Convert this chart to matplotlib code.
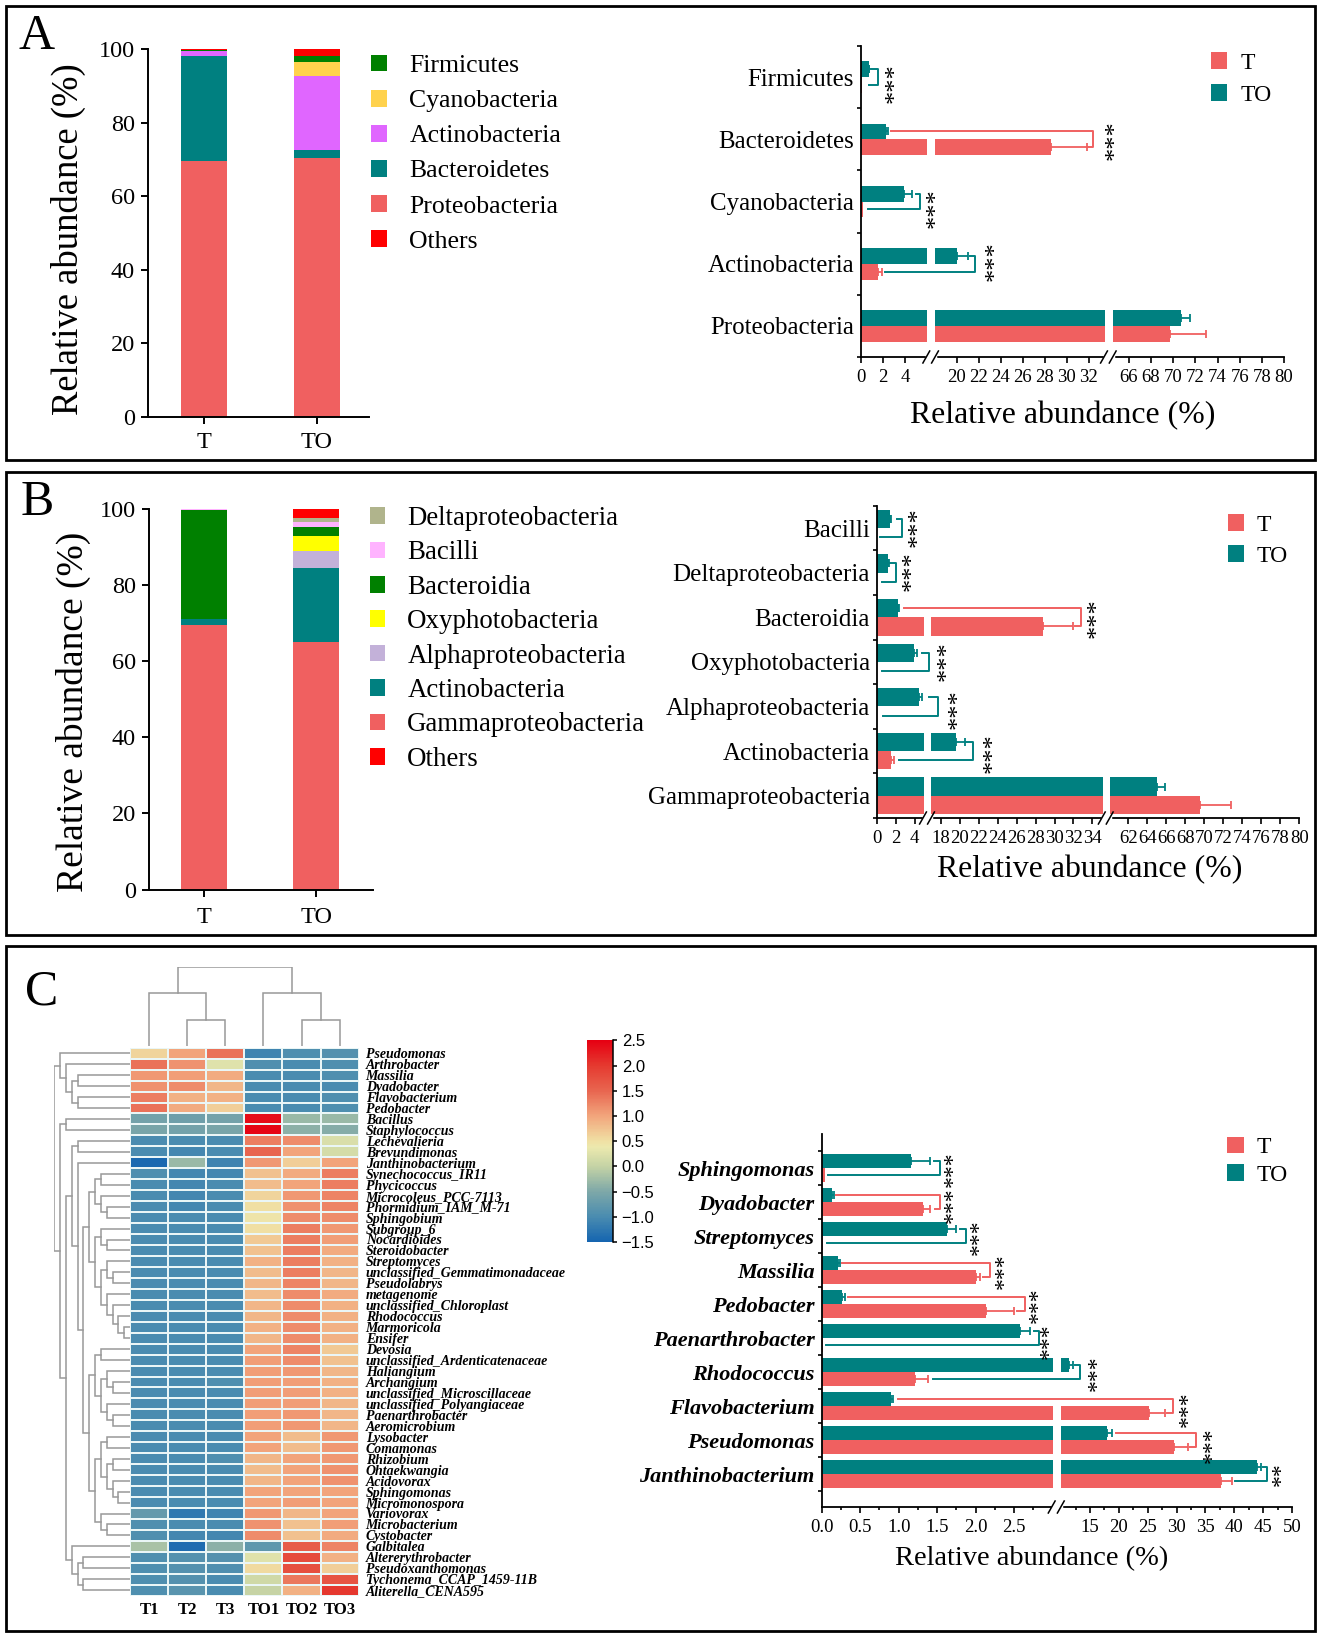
import numpy as np
import matplotlib
matplotlib.use('Agg')
import matplotlib.pyplot as plt
from matplotlib.colors import LinearSegmentedColormap
from matplotlib.lines import Line2D
from matplotlib.patches import Patch, Rectangle
from matplotlib.transforms import Affine2D, blended_transform_factory

plt.rcParams['font.family'] = ['Liberation Serif', 'DejaVu Serif']
plt.rcParams['mathtext.fontset'] = 'stix'

# ---------------------------- data: panel A ----------------------------
a_groups = ['T', 'TO']
a_legend = ['Firmicutes', 'Cyanobacteria', 'Actinobacteria', 'Bacteroidetes', 'Proteobacteria', 'Others']
a_stack_names = ['Proteobacteria', 'Bacteroidetes', 'Actinobacteria', 'Cyanobacteria', 'Firmicutes', 'Others']
a_stack_T = [69.6, 28.6, 1.35, 0.1, 0.05, 0.3]
a_stack_TO = [70.3, 2.3, 20.2, 3.8, 1.6, 1.8]

a_cats = ['Firmicutes', 'Bacteroidetes', 'Cyanobacteria', 'Actinobacteria', 'Proteobacteria']
a_T = [0.05, 28.6, 0.15, 1.57, 69.7]
a_T_err = [0, 3.2, 0, 0.33, 3.3]
a_TO = [0.7, 2.25, 3.9, 20.0, 70.7]
a_TO_err = [0.05, 0.15, 0.7, 1.0, 0.8]
a_ticks = [0, 2, 4, 20, 22, 24, 26, 28, 30, 32, 66, 68, 70, 72, 74, 76, 78, 80]
# bracket: colour key, inner end on TO bar, outer side, inner end on T bar
a_brackets = [('TO', 0.95, 1.5, 0.7), ('T', 2.7, 32.4, 31.9), ('TO', 5.0, 5.36, 0.6), ('TO', 21.2, 21.7, 2.15)]
a_stars = ['***', '***', '***', '***']

# ---------------------------- data: panel B ----------------------------
b_legend = ['Deltaproteobacteria', 'Bacilli', 'Bacteroidia', 'Oxyphotobacteria', 'Alphaproteobacteria',
            'Actinobacteria', 'Gammaproteobacteria', 'Others']
b_stack_names = ['Gammaproteobacteria', 'Actinobacteria', 'Alphaproteobacteria', 'Oxyphotobacteria',
                 'Bacteroidia', 'Bacilli', 'Deltaproteobacteria', 'Others']
b_stack_T = [69.5, 1.5, 0.1, 0.05, 28.6, 0.02, 0.03, 0.2]
b_stack_TO = [65.0, 19.5, 4.5, 3.9, 2.2, 1.3, 1.2, 2.4]

b_cats = ['Bacilli', 'Deltaproteobacteria', 'Bacteroidia', 'Oxyphotobacteria', 'Alphaproteobacteria',
          'Actinobacteria', 'Gammaproteobacteria']
b_T = [0.02, 0.02, 28.8, 0.05, 0.05, 1.55, 69.5]
b_T_err = [0, 0, 3.2, 0, 0, 0.25, 3.3]
b_TO = [1.45, 1.2, 2.2, 3.9, 4.5, 19.6, 65.0]
b_TO_err = [0.1, 0.05, 0.15, 0.35, 0.3, 0.9, 0.9]
b_ticks = [0, 2, 4] + list(range(18, 35, 2)) + list(range(62, 81, 2))
b_brackets = [('TO', 2.1, 2.65, 0.3), ('TO', 1.4, 2.05, 0.5), ('T', 2.9, 32.8, 32.2),
              ('TO', 4.8, 13.5, 0.5), ('TO', 13.5, 17.65, 0.7), ('TO', 20.7, 21.4, 2.4)]
b_stars = ['***'] * 6

# ---------------------------- data: panel C ----------------------------
c_cats = ['Sphingomonas', 'Dyadobacter', 'Streptomyces', 'Massilia', 'Pedobacter', 'Paenarthrobacter',
          'Rhodococcus', 'Flavobacterium', 'Pseudomonas', 'Janthinobacterium']
c_T = [0.045, 1.32, 0.02, 2.0, 2.13, 0.015, 1.21, 25.2, 29.6, 37.65]
c_T_err = [0, 0.08, 0, 0.05, 0.37, 0, 0.17, 2.8, 2.3, 1.95]
c_TO = [1.16, 0.136, 1.63, 0.215, 0.27, 2.58, 11.39, 0.9, 18.0, 43.9]
c_TO_err = [0.25, 0.02, 0.12, 0.02, 0.035, 0.12, 0.6, 0.02, 0.8, 0.7]
c_ticks = [0, 0.5, 1.0, 1.5, 2.0, 2.5, 15, 20, 25, 30, 35, 40, 45, 50]
c_minor = [0.25, 0.75, 1.25, 1.75, 2.25, 2.75, 12.5, 17.5, 22.5, 27.5, 32.5, 37.5, 42.5, 47.5]
c_brackets = [('TO', 1.46, 1.54, 0.085), ('T', 0.18, 1.54, 1.47), ('TO', 1.8, 1.87, 0.07),
              ('T', 0.27, 2.19, 2.09), ('T', 0.34, 2.64, 2.54), ('TO', 2.76, 2.82, 0.056),
              ('TO', 12.44, 13.34, 1.45), ('T', 0.99, 29.45, 28.4), ('T', 19.5, 33.4, 32.4),
              ('TO', 45.0, 45.7, 40.2)]
c_stars = ['***'] * 9 + ['**']

heat_cols = ['T1', 'T2', 'T3', 'TO1', 'TO2', 'TO3']
heat_rows = ['Pseudomonas', 'Arthrobacter', 'Massilia', 'Dyadobacter', 'Flavobacterium', 'Pedobacter',
             'Bacillus', 'Staphylococcus', 'Lechevalieria', 'Brevundimonas', 'Janthinobacterium',
             'Synechococcus_IR11', 'Phycicoccus', 'Microcoleus_PCC-7113', 'Phormidium_IAM_M-71', 'Sphingobium',
             'Subgroup_6', 'Nocardioides', 'Steroidobacter', 'Streptomyces', 'unclassified_Gemmatimonadaceae',
             'Pseudolabrys', 'metagenome', 'unclassified_Chloroplast', 'Rhodococcus', 'Marmoricola', 'Ensifer',
             'Devosia', 'unclassified_Ardenticatenaceae', 'Haliangium', 'Archangium',
             'unclassified_Microscillaceae', 'unclassified_Polyangiaceae', 'Paenarthrobacter', 'Aeromicrobium',
             'Lysobacter', 'Comamonas', 'Rhizobium', 'Ohtaekwangia', 'Acidovorax', 'Sphingomonas',
             'Micromonospora', 'Variovorax', 'Microbacterium', 'Cystobacter', 'Galbitalea', 'Altererythrobacter',
             'Pseudoxanthomonas', 'Tychonema_CCAP_1459-11B', 'Aliterella_CENA595']
heat_vals = [
    [.6, 1.0, 1.4, -1.1, -.95, -.9], [1.4, 1.15, .25, -.95, -1, -.95], [1.1, 1.05, .95, -1, -1, -.95],
    [1.15, 1.2, .85, -1, -1, -1], [1.3, .9, .9, -1, -1, -.95], [1.4, .95, .65, -1, -1, -.95],
    [-.6, -.65, -.6, 2.4, -.3, -.3], [-.55, -.6, -.55, 2.45, -.4, -.45], [-1, -1, -1, 1.3, 1.2, .2],
    [-1, -1.05, -1, 1.5, 1.0, .15], [-1.45, -.3, -1.1, 1.1, .65, 1.0], [-.95, -1.05, -1.05, .75, .95, 1.3],
    [-1, -1.05, -1, .8, 1.0, 1.3], [-1, -1.05, -1, .6, 1.1, 1.25], [-1, -1.05, -1, .5, 1.15, 1.25],
    [-1, -1, -1, .45, 1.2, 1.2], [-1, -1, -1, .5, 1.3, 1.1], [-1, -1, -1, .7, 1.3, 1.05],
    [-1, -1, -1, .75, 1.3, .95], [-1, -1, -1, .9, 1.3, .9], [-1, -1, -1, .8, 1.3, .85],
    [-1, -1, -1, .85, 1.25, .85], [-1, -1, -1, .8, 1.2, .95], [-1, -1, -1, .85, 1.2, .9],
    [-1, -1, -1, .85, 1.2, .9], [-1, -1, -1, .9, 1.2, .9], [-1, -1, -1, .85, 1.2, .9],
    [-1, -1, -1, 1.0, 1.25, .7], [-1, -1, -1, 1.05, 1.2, .75], [-1, -1, -1, 1.05, 1.1, .85],
    [-1, -1, -.95, 1.05, 1.05, .9], [-1, -1, -1, 1.05, 1.05, .9], [-1, -1, -1, 1.05, 1.05, .85],
    [-1, -1, -1, 1.05, 1.1, .85], [-1, -1, -1, 1.05, 1.1, .85], [-1, -1, -1, 1.0, .8, 1.1],
    [-1, -1, -1, 1.0, .8, 1.1], [-1, -1, -.95, .85, 1.0, 1.1], [-1, -1, -1, .8, 1.0, 1.15],
    [-1, -1, -1, .85, 1.0, 1.15], [-1, -1, -1, 1.0, 1.0, 1.0], [-1, -1, -1, 1.0, 1.05, 1.0],
    [-.75, -1.25, -1.1, 1.1, .85, 1.0], [-.95, -1, -1, 1.15, .75, 1.05], [-.95, -1.05, -1.05, 1.2, .75, .95],
    [-.2, -1.4, -.4, -.8, 1.6, 1.25], [-.95, -.9, -.9, .25, 1.8, .9], [-.95, -.9, -.95, .55, 1.75, .65],
    [-.95, -.9, -1, .1, 1.35, 1.7], [-.95, -.85, -1, -.0, .9, 2.0]]
# dendrograms: (merge level, child, child); a plain int is a leaf
col_tree = (0, (1, 0, (2, 1, 2)), (1, 3, (2, 4, 5)))
row_tree = (0,
            (1, 0, (2, 1, (3, (4, 2, 3), (4, 4, 5)))),
            (1, (2, 6, 7),
             (2,
              (3, (4, 8, 9),
               (4, 10,
                (5,
                 (6,
                  (7, (8, 11, 12), (8, 13, (9, 14, 15))),
                  (7, (8, 16, (9, 17, 18)),
                   (8, (9, 19, (10, 20, 21)), (9, 22, (10, 23, (11, 24, (12, 25, 26))))))),
                 (6,
                  (7, (8, 27, 28), (8, (9, 29, (10, 30, 31)), (9, 32, (10, 33, 34)))),
                  (7,
                   (8, (9, 35, 36), (9, (10, 37, 38), (10, 39, (11, 40, 41)))),
                   (8, 42, (9, 43, 44))))))),
              (3, 45, (4, (5, 46, 47), (5, 48, 49))))))

# ---------------------------- styling / layout ----------------------------
W, H = 1320, 1637
C_T, C_TO = '#F06060', '#008080'
SERIES_COL = {'Proteobacteria': '#F06060', 'Gammaproteobacteria': '#F06060', 'Bacteroidetes': '#008080',
              'Actinobacteria': '#E066FF', 'Cyanobacteria': '#FFD24D', 'Firmicutes': '#008000', 'Others': '#FF0000'}
SERIES_COL_B = {'Deltaproteobacteria': '#B0B48C', 'Bacilli': '#FFB3FF', 'Bacteroidia': '#008000',
                'Oxyphotobacteria': '#FFFF00', 'Alphaproteobacteria': '#C3B1D9', 'Actinobacteria': '#008080',
                'Gammaproteobacteria': '#F06060', 'Others': '#FF0000'}

fig = plt.figure(figsize=(W / 100, H / 100), dpi=100, facecolor='white')
PX = Affine2D().scale(1, -1).translate(0, H)


def axes_px(l, t, r, b):
    return fig.add_axes([l / W, 1 - b / H, (r - l) / W, (b - t) / H])


def px_legend(names, cols, x, y, fs, spacing, pad, sq):
    fpx = fs * 100 / 72
    handles = [Patch(facecolor=c, edgecolor='none', label=n) for n, c in zip(names, cols)]
    fig.legend(handles=handles, loc='upper left', bbox_to_anchor=(x / W, 1 - y / H), frameon=False, fontsize=fs,
               borderpad=0, borderaxespad=0, handlelength=sq / fpx, handleheight=sq / fpx,
               handletextpad=pad / fpx, labelspacing=spacing / fpx)


def stacked(box, groups, names, t_vals, to_vals, cols, ylab_x, ylab_y, ylab_fs, centers, xpad):
    ax = axes_px(*box)
    l, t, r, b = box
    pitch = centers[1] - centers[0]
    ax.set_xlim((l - centers[0]) / pitch, (r - centers[0]) / pitch)
    ax.set_ylim(0, 100)
    bott = np.zeros(2)
    for n, tv, tov in zip(names, t_vals, to_vals):
        vals = np.array([tv, tov])
        ax.bar([0, 1], vals, 0.41, bottom=bott, color=cols[n], linewidth=0)
        bott = bott + vals
    ax.set_xticks([0, 1], groups)
    ax.set_yticks(range(0, 101, 20))
    ax.tick_params(axis='both', labelsize=17.5, width=1.4, length=5)
    ax.tick_params(axis='y', pad=4.3)
    ax.tick_params(axis='x', pad=xpad)
    for s in ('top', 'right'):
        ax.spines[s].set_visible(False)
    for s in ('left', 'bottom'):
        ax.spines[s].set_linewidth(1.4)
    ax.set_ylabel('Relative abundance (%)', fontsize=ylab_fs, va='center', ha='center')
    ax.yaxis.set_label_coords(ylab_x, ylab_y, transform=PX)
    return ax


def broken(box, cats, t, t_e, to, to_e, vals, pxs, gaps, ticks, brackets, stars, star_px, star_dy,
           bar_h, cat_kw, xlab_xy, xlab_fs, ylim, xpad, minor=None):
    l, top, r, b = box
    ax = axes_px(*box)
    ax.set_xscale('function', functions=(lambda v: np.interp(v, vals, pxs), lambda p: np.interp(p, pxs, vals)))
    ax.set_xlim(vals[0], vals[-1])
    ax.set_ylim(*ylim)
    y = np.arange(len(cats))
    yto, yt = y - bar_h / 2, y + bar_h / 2
    ax.barh(yto, to, bar_h, color=C_TO, linewidth=0, zorder=2)
    ax.barh(yt, t, bar_h, color=C_T, linewidth=0, zorder=2)
    for yy, v, e, c in [(yto, to, to_e, C_TO), (yt, t, t_e, C_T)]:
        v, e = np.array(v), np.array(e)
        m = e > 0
        ax.errorbar(v[m], yy[m], xerr=[np.zeros(m.sum()), e[m]], fmt='none', ecolor=c, elinewidth=1.3,
                    capsize=3, capthick=1.3, zorder=2)
    for g0, g1 in gaps:
        ax.axvspan(np.interp(g0, pxs, vals), np.interp(g1, pxs, vals), color='white', lw=0, zorder=3)
        ax.add_artist(Line2D([g0, g1], [b, b], transform=PX, color='white', lw=2.5, clip_on=False, zorder=6))
        for cx in (g0 - 1, g1):
            ax.add_artist(Line2D([cx - 3.4, cx + 3.4], [b + 6, b - 6], transform=PX, color='black', lw=1.1,
                                 clip_on=False, zorder=7))
    col = {'T': C_T, 'TO': C_TO}
    for i, (k, a, o, c) in enumerate(brackets):
        ax.plot([a, o, o, c], [yto[i], yto[i], yt[i], yt[i]], color=col[k], lw=1.4, clip_on=False, zorder=5)
    tr = blended_transform_factory(PX, ax.transData)
    for i, (s, sx, dy) in enumerate(zip(stars, star_px, star_dy)):
        ax.text(sx + star_shift, i + dy, s, rotation=90, transform=tr, ha='center', va='center',
                fontsize=cat_kw['star'], zorder=6, clip_on=False)
    ax.set_xticks(ticks, [('%g' % v if not minor else '%.1f' % v if v < 3 else '%d' % v) for v in ticks])
    if minor:
        ax.set_xticks(minor, minor=True)
        ax.tick_params(axis='x', which='minor', length=2.5, width=1.2)
    ax.tick_params(axis='x', which='major', labelsize=13.5, length=4, width=1.2, pad=xpad)
    ax.set_yticks(np.arange(len(cats) + 1) - 0.5)
    ax.set_yticks(y, cats, minor=True)
    ax.tick_params(axis='y', which='major', length=3, width=1.2, labelleft=False)
    ax.tick_params(axis='y', which='minor', length=0, pad=cat_kw['pad'], labelsize=cat_kw['fs'])
    for lab in ax.get_yticklabels(minor=True):
        lab.set_fontweight(cat_kw.get('weight', 'normal'))
        lab.set_fontstyle(cat_kw.get('style', 'normal'))
    for s in ('top', 'right'):
        ax.spines[s].set_visible(False)
    for s in ('left', 'bottom'):
        ax.spines[s].set_linewidth(1.3)
    ax.set_xlabel('Relative abundance (%)', fontsize=xlab_fs, va='center', ha='center')
    ax.xaxis.set_label_coords(xlab_xy[0], xlab_xy[1], transform=PX)
    return ax


star_shift = 7
# panel frames
for (x0, y0, x1, y1) in [(6, 6, 1315, 459.5), (6, 472, 1315, 934.7), (6, 946, 1315, 1630.7)]:
    fig.add_artist(Rectangle((x0, y0), x1 - x0, y1 - y0, transform=PX, fill=False, edgecolor='black', lw=2))
for s, x, y in [('A', 37, 37), ('B', 37, 503), ('C', 42, 992)]:
    fig.text(x / W, 1 - y / H, s, fontsize=36, ha='center', va='center')

# ---- Panel A
stacked((148, 49.3, 369, 416.7), a_groups, a_stack_names, a_stack_T, a_stack_TO, SERIES_COL, 68, 239, 26.4, (204, 316.8), 6)
px_legend(a_legend, [SERIES_COL[n] for n in a_legend], 370.7, 54.8, 18.5, 12.7, 22.7, 16)
broken((861, 45.7, 1284, 357), a_cats, a_T, a_T_err, a_TO, a_TO_err,
       [0, 6, 18.03, 33.48, 64.54, 80], [861, 927.3, 935, 1105, 1112.7, 1284], [(927.3, 935), (1105, 1112.7)],
       a_ticks, a_brackets, a_stars, [888.4, 1108.4, 929.4, 989], [0.1, 0.015, 0.1, -0.04], 0.255,
       dict(fs=17.9, pad=5, star=19), (1063, 416), 22.9, (4.49, -0.507), 5)
px_legend(['T', 'TO'], [C_T, C_TO], 1210.6, 52.5, 17, 10, 13, 16.5)

# ---- Panel B
stacked((149, 508.6, 373, 889.7), a_groups, b_stack_names, b_stack_T, b_stack_TO, SERIES_COL_B, 73, 712, 27, (204.2, 316.4), 7.6)
px_legend(b_legend, [SERIES_COL_B[n] for n in b_legend], 369.7, 506, 19.4, 9.4, 22, 15.6)
broken((876.8, 505.7, 1299.3, 818), b_cats, b_T, b_T_err, b_TO, b_TO_err,
       [0, 5, 16.95, 35.1, 60.04, 80], [876.8, 924, 931, 1102.8, 1109.7, 1299.3], [(924, 931), (1102.8, 1109.7)],
       b_ticks, b_brackets, b_stars, [911.9, 906.2, 1091, 940.9, 951.3, 986.3], [-0.03, -0.03, 0.015, -0.02, 0.05, 0.04], 0.41,
       dict(fs=18, pad=5, star=19), (1089.8, 870), 22.9, (6.5, -0.5), 4.4)
px_legend(['T', 'TO'], [C_T, C_TO], 1227.5, 514.5, 17, 9, 13, 16.5)

# ---- Panel C: bars
broken((821.7, 1134, 1292, 1507), c_cats, c_T, c_T_err, c_TO, c_TO_err,
       [0, 3, 9.94, 50], [821.7, 1052.7, 1060.8, 1292], [(1052.7, 1060.8)],
       c_ticks, c_brackets, c_stars, [946, 946, 972.5, 997.6, 1031.8, 1042.6, 1090.6, 1181, 1205.4, 1274.2],
       [0.03, 0.09, 0.04, 0.03, 0.03, 0.1, 0.04, 0.09, 0.15, 0], 0.41,
       dict(fs=16, pad=5, star=17, weight='bold', style='italic'), (1031.8, 1559), 20.5, (9.97, -1.0), 4.4,
       minor=c_minor)
px_legend(['T', 'TO'], [C_T, C_TO], 1227, 1136.5, 17, 6, 13, 17)

# ---- Panel C: heatmap
cmap = LinearSegmentedColormap.from_list('heat', [
    (0.0, '#1565B0'), (0.125, '#4A8CB0'), (0.25, '#7EA8A8'), (0.375, '#C5D3A5'), (0.47, '#ECE9AE'),
    (0.5, '#F0E0A4'), (0.625, '#F2A57C'), (0.75, '#E86650'), (0.875, '#E53A30'), (1.0, '#E60012')])
ax_h = axes_px(130, 1047.7, 358.7, 1595.7)
mesh = ax_h.pcolormesh(np.array(heat_vals), cmap=cmap, vmin=-1.5, vmax=2.5, edgecolors='#EAF6F6', linewidth=1.1)
ax_h.set_ylim(len(heat_rows), 0)
ax_h.set_xticks(np.arange(6) + 0.5, heat_cols, fontweight='bold', fontsize=12)
ax_h.yaxis.tick_right()
ax_h.set_yticks(np.arange(len(heat_rows)) + 0.5, heat_rows, fontweight='bold', fontstyle='italic', fontsize=10)
ax_h.tick_params(length=0)
ax_h.tick_params(axis='y', pad=5)
ax_h.tick_params(axis='x', pad=4.5)
for s in ax_h.spines.values():
    s.set_visible(False)

cax = axes_px(586.7, 1040.3, 613.3, 1242)
cb = fig.colorbar(mesh, cax=cax, ticks=np.arange(-1.5, 2.6, 0.5))
cb.outline.set_visible(False)
cax.spines['right'].set_visible(True)
cax.spines['right'].set_linewidth(1.1)
cax.tick_params(length=3, width=1.1, pad=3, labelsize=12)
for lab in cax.get_yticklabels():
    lab.set_family('Liberation Sans')


def draw_tree(ax, node, horizontal, leaf_level):
    if isinstance(node, int):
        return node + 0.5, leaf_level
    lev, a, b = node
    pa, la = draw_tree(ax, a, horizontal, leaf_level)
    pb, lb = draw_tree(ax, b, horizontal, leaf_level)
    seq_p, seq_l = [pa, pa, pb, pb], [la, lev, lev, lb]
    if horizontal:
        ax.plot(seq_l, seq_p, color='#999999', lw=1.1, solid_joinstyle='miter')
    else:
        ax.plot(seq_p, seq_l, color='#999999', lw=1.1, solid_joinstyle='miter')
    return (pa + pb) / 2, lev


ax_top = axes_px(130, 966.7, 358.7, 1046)
ax_top.set_xlim(0, 6)
ax_top.set_ylim(3, 0)
draw_tree(ax_top, col_tree, False, 3)
ax_top.axis('off')

ax_left = axes_px(54.3, 1047.7, 130, 1595.7)
ax_left.set_xlim(0, 13)
ax_left.set_ylim(len(heat_rows), 0)
draw_tree(ax_left, row_tree, True, 13)
ax_left.axis('off')

fig.savefig('out.png', dpi=100, facecolor='white')
